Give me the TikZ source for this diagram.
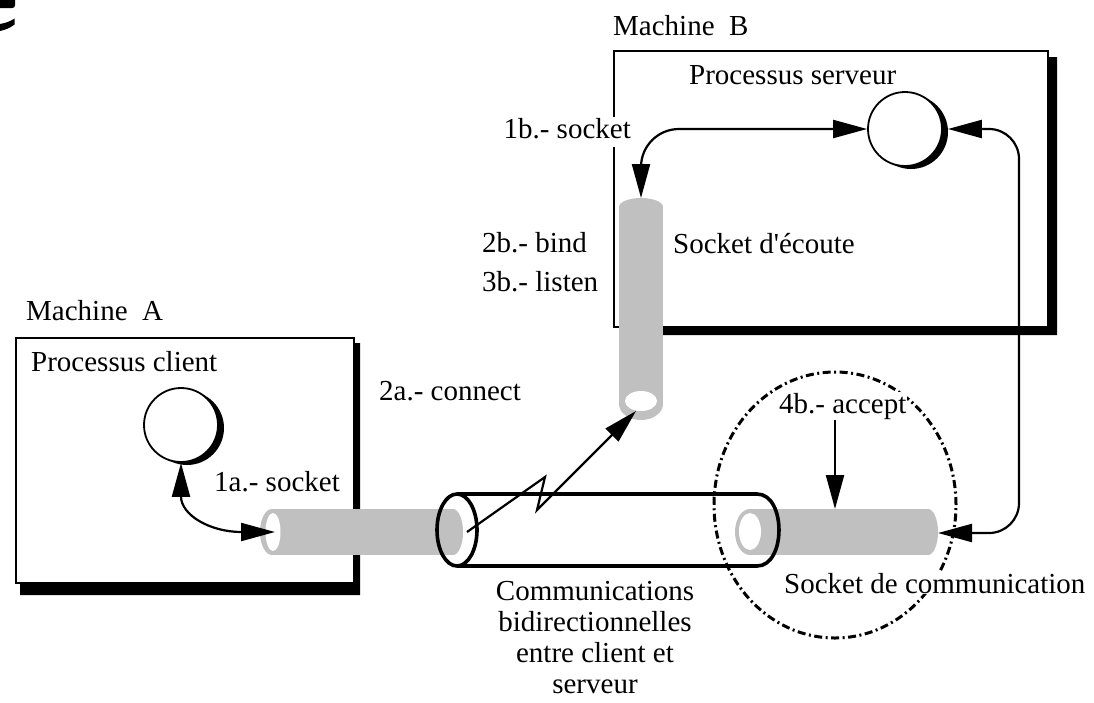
\documentclass[tikz,border=0pt]{standalone}
\usepackage{fontspec}
\setmainfont{Liberation Serif}
\usetikzlibrary{arrows.meta}
\definecolor{sockgray}{RGB}{192,192,192}
\begin{document}
\begin{tikzpicture}[x=1pt,y=-1pt,
  box/.style={draw, fill=white, line width=1.7pt, inner sep=0pt, anchor=north west},
  proc/.style={circle, draw, fill=white, line width=1.8pt, inner sep=0pt, minimum size=74pt},
  tube/.style={line width=3.6pt},
  ring/.style={line width=3pt, dash pattern=on 8pt off 3.5pt on 2pt off 3.5pt},
  conn/.style={line width=2.2pt, -{Triangle[length=34pt,width=18pt]}},
  dbl/.style={line width=2.2pt, {Triangle[length=34pt,width=18pt]}-{Triangle[length=34pt,width=18pt]}},
  lbl/.style={font=\fontsize{29}{31}\selectfont, inner sep=1pt},
  wlbl/.style={lbl, fill=white}]

\useasboundingbox (0,0) rectangle (1094,702);
\fill[white] (0,0) rectangle (1094,702);

% tail of the large heading letter, cut by the top-left corner
\fill (0,0) -- (15,0) -- (15,5) .. controls (15,7) and (14,8) .. (12,8) -- (0,8) -- cycle;
\fill (0,24) .. controls (6,23) and (11,21) .. (14.5,18.5) -- (14.5,24.5)
      .. controls (10,28) and (5,30) .. (0,31) -- cycle;

% machine frames with drop shadows
\fill (355,343) -- (360,343) -- (360,595) -- (20,595) -- (20,584) -- (355,584) -- cycle;
\node[box, minimum width=338pt, minimum height=245pt] (machA) at (15,337) {};
\fill (1049,57) -- (1057,57) -- (1057,335) -- (620,335) -- (620,328) -- (1049,328) -- cycle;
\node[box, minimum width=434pt, minimum height=276pt] (machB) at (613,50) {};

% processes
\fill (187,428) circle[radius=37pt];
\node[proc] (cli) at (181,425) {};
\fill (911,132) circle[radius=37pt];
\node[proc] (srv) at (905,129) {};

% client socket
\fill[sockgray] (272,509) rectangle (453,555);
\fill[sockgray] (453,532) ellipse[x radius=10pt, y radius=23pt];
\fill[sockgray] (272,532) ellipse[x radius=12pt, y radius=23pt];
\fill[white] (273,532) ellipse[x radius=7.5pt, y radius=19pt];
\coordinate (sockAin) at (275,532);
\coordinate (sockAend) at (467,532);

% communication socket on the server side
\fill[sockgray] (750,509) rectangle (928,555);
\fill[sockgray] (928,532) ellipse[x radius=10pt, y radius=23pt];
\fill[sockgray] (750,532) ellipse[x radius=15pt, y radius=23pt];
\fill[white] (750,531.5) ellipse[x radius=11pt, y radius=18.5pt];
\coordinate (sockBtop) at (835,509);
\coordinate (sockBend) at (938,533);

% listening socket
\fill[sockgray] (619,207) rectangle (663,404);
\fill[sockgray] (641,207) ellipse[x radius=22pt, y radius=9pt];
\fill[sockgray] (641,404) ellipse[x radius=22pt, y radius=16pt];
\fill[white] (641,401) ellipse[x radius=16pt, y radius=10pt];
\coordinate (listenTop) at (641,198);
\coordinate (listenHole) at (636,411);

% bidirectional channel
\draw[tube] (457,530) ellipse[x radius=20pt, y radius=36pt];
\draw[tube] (457,494) -- (757,494) .. controls (786.3,494) and (786.3,566) .. (757,566) -- (457,566);

% accept zone
\draw[ring] (835,505) ellipse[x radius=121pt, y radius=133pt];

% labels
\node[lbl, anchor=base west] (machAlbl) at (25,320) {Machine\ \ A};
\node[lbl, anchor=base west] (machBlbl) at (612,35) {Machine\ \ B};
\node[lbl, anchor=base west] (cliLbl) at (30,371) {Processus client};
\node[lbl, anchor=base west] (srvLbl) at (688,84) {Processus serveur};
\node[wlbl, anchor=base east, text depth=8pt] (s1b) at (632,138) {1b.- socket};
\node[lbl, anchor=base west] (s2b) at (481,252) {2b.- bind};
\node[lbl, anchor=base west] (s3b) at (481,291) {3b.- listen};
\node[lbl, anchor=base west] (listenLbl) at (672,253) {Socket d\textquotesingle écoute};
\node[lbl, anchor=base west] (s2a) at (378,400) {2a.- connect};
\node[lbl, anchor=base west] (s1a) at (213,491) {1a.- socket};
\node[wlbl, anchor=base west] (accept) at (778,413) {4b.- accept};
\node[wlbl, anchor=base west] (commLbl) at (783,593) {Socket de communication};
\node[lbl, anchor=north, align=center, inner sep=0pt] (chanLbl) at (595,581)
  {Communications\\bidirectionnelles\\entre client et\\serveur};

% connectors
\coordinate (zigA) at (545,477);
\coordinate (zigB) at (537,510);
\coordinate (loopC) at (1019,533);
\coordinate (srvR) at ([xshift=5pt]srv.east);
\draw[dbl] (cli.south) .. controls (181,515) and (210,532) .. (sockAin);
\draw[dbl, rounded corners=38pt] (listenTop) |- (srv.west);
\draw[conn] (sockAend) -- (zigA) -- (zigB) -- (listenHole);
\draw[conn] (accept.south -| sockBtop) -- (sockBtop);
\draw[dbl, rounded corners=30pt] (srvR) -| (loopC) -- (sockBend);
\end{tikzpicture}
\end{document}
